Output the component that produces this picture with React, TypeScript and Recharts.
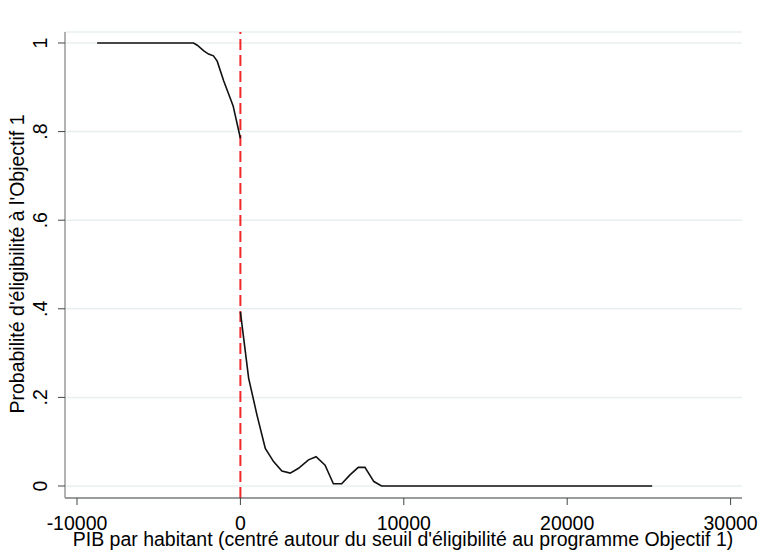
import React from "react";
import { LineChart, Line, XAxis, YAxis, CartesianGrid, ReferenceLine, Label } from "recharts";

const leftX = [-8770, -2870, -2640, -2240, -1950, -1650, -1420, -1020, -610, -445, 0];
const leftY = [1, 1, 0.995, 0.982, 0.975, 0.971, 0.959, 0.914, 0.874, 0.858, 0.785];
const rightX = [0, 506, 1016, 1524, 2030, 2540, 3049, 3557, 4167, 4634, 5183, 5691, 6200, 6707, 7215, 7622, 8170, 8640, 25200];
const rightY = [0.393, 0.243, 0.16, 0.085, 0.055, 0.034, 0.029, 0.04, 0.059, 0.066, 0.047, 0.005, 0.005, 0.025, 0.042, 0.042, 0.01, 0, 0];
const xTicks = [-10000, 0, 10000, 20000, 30000];
const yTicks = [0, 0.2, 0.4, 0.6, 0.8, 1];
const yTickLabels = ["0", ".2", ".4", ".6", ".8", "1"];
const xTitle = "PIB par habitant (centré autour du seuil d'éligibilité au programme Objectif 1)";
const yTitle = "Probabilité d'éligibilité à l'Objectif 1";

const leftData = leftX.map((x, i) => ({ x, p: leftY[i] }));
const rightData = rightX.map((x, i) => ({ x, p: rightY[i] }));

const FONT = "'Liberation Sans', Arial, sans-serif";
const FS = 19.5;

const XTick = (props: any) => {
  const { x, payload } = props;
  return (
    <text x={x} y={530} textAnchor="middle" fontFamily={FONT} fontSize={FS} fill="#000">
      {String(payload.value)}
    </text>
  );
};

const YTick = (props: any) => {
  const { y, payload } = props;
  const idx = yTicks.indexOf(payload.value);
  const lbl = idx >= 0 ? yTickLabels[idx] : String(payload.value);
  return (
    <text x={47} y={y} transform={`rotate(-90, 47, ${y})`} textAnchor="middle" fontFamily={FONT} fontSize={FS} fill="#000">
      {lbl}
    </text>
  );
};

export default function App() {
  return (
    <div style={{ position: "absolute", left: 0, top: 0, width: 758, height: 552, background: "#fff" }}>
      <LineChart width={758} height={552} margin={{ top: 32, right: 16, bottom: 0, left: 0 }}>
        <CartesianGrid horizontal={true} vertical={false} stroke="#e8eff0" strokeWidth={1.5} />
        <XAxis
          type="number"
          dataKey="x"
          domain={[-10734, 30698]}
          ticks={xTicks}
          allowDataOverflow
          height={54}
          axisLine={{ stroke: "#444" }}
          tickLine={{ stroke: "#444" }}
          tickSize={7}
          tick={<XTick />}
          interval={0}
        >
          <Label
            content={() => (
              <text x={403} y={546} textAnchor="middle" fontFamily={FONT} fontSize={FS} fill="#000">
                {xTitle}
              </text>
            )}
          />
        </XAxis>
        <YAxis
          type="number"
          domain={[-0.0271, 1.0248]}
          ticks={yTicks}
          allowDataOverflow
          width={65}
          axisLine={{ stroke: "#9a9a9a", strokeWidth: 1.5 }}
          tickLine={{ stroke: "#444" }}
          tickSize={7}
          tick={<YTick />}
          interval={0}
        >
          <Label
            content={() => (
              <text x={24} y={264} transform="rotate(-90, 24, 264)" textAnchor="middle" fontFamily={FONT} fontSize={FS} fill="#000">
                {yTitle}
              </text>
            )}
          />
        </YAxis>
        <ReferenceLine x={0} stroke="#f0282a" strokeWidth={2} strokeDasharray="11 5" />
        <Line data={leftData} dataKey="p" type="linear" stroke="#111" strokeWidth={1.6} dot={false} isAnimationActive={false} />
        <Line data={rightData} dataKey="p" type="linear" stroke="#111" strokeWidth={1.6} dot={false} isAnimationActive={false} />
      </LineChart>
    </div>
  );
}
